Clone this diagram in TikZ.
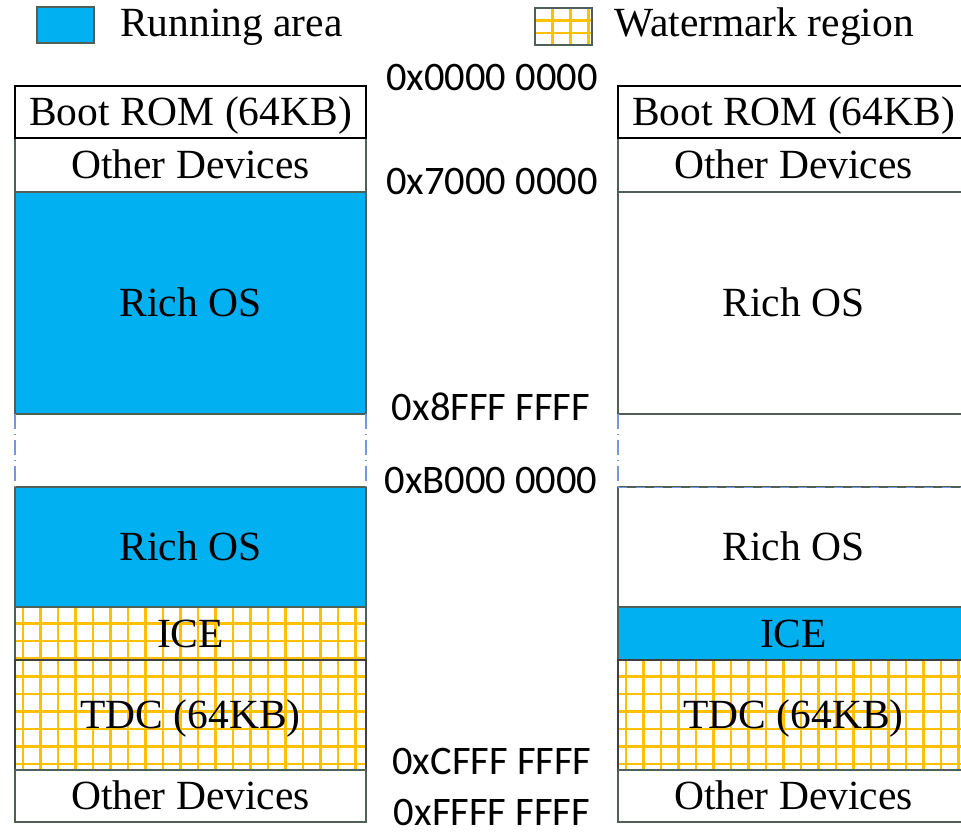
\documentclass[tikz,border=0pt]{standalone}
\usepackage{fontspec}
\setmainfont{Liberation Serif}
\newfontfamily\addrfont{Carlito}
\definecolor{runblue}{HTML}{00B0F0}
\definecolor{wmgold}{HTML}{FFC000}
\definecolor{edgegray}{HTML}{4F6056}
\definecolor{gapblue}{HTML}{7797DD}

\tikzset{
  blocktxt/.style={font=\fontsize{41.5}{41.5}\selectfont},
  block/.style={blocktxt, draw=edgegray, line width=1.3pt, minimum width=351pt,
    inner sep=0pt, outer sep=0pt, text height=27pt, text depth=0pt},
  run/.style={block, fill=runblue},
  bootrom/.style={block, draw=black, line width=2.6pt},
  wmline/.style={draw=wmgold, line width=2.2pt},
  % grid hatch: x offset, x step, y offset, y step
  wm/.style n args={4}{path picture={
    \foreach \i in {0,...,24}
      \draw[wmline] ([xshift={#1pt+\i*#2pt}]path picture bounding box.north west)
        -- ([xshift={#1pt+\i*#2pt}]path picture bounding box.south west);
    \foreach \j in {0,...,10}
      \draw[wmline] ([yshift={-#3pt-\j*#4pt}]path picture bounding box.north west)
        -- ([yshift={-#3pt-\j*#4pt}]path picture bounding box.north east);
  }},
  wmblock/.style={block, wm={8}{17.5}{16.5}{17.5}},
  tdcedge/.style={draw=black!75},
  addr/.style={font=\addrfont\fontsize{40.5}{40.5}\selectfont, inner sep=0pt,
    text height=25.5pt, text depth=0pt},
  gapline/.style={draw=gapblue, line width=1.3pt, dash pattern=on 15pt off 5pt on 1pt off 5pt},
}

\begin{document}
\begin{tikzpicture}[x=1pt,y=-1pt]
\useasboundingbox (0,0) rectangle (961,834);
\clip (0,0) rectangle (961,834);

% legend
\node[draw=edgegray, line width=1.2pt, fill=runblue, minimum width=57pt, minimum height=36pt,
  inner sep=0pt] (legRun) at (65.5,25) {};
\node[blocktxt, anchor=base west, inner sep=0pt] (legRunTxt) at (120,37) {Running area};
\node[draw=edgegray, line width=1.2pt, minimum width=57pt, minimum height=37pt, inner sep=0pt,
  wm={17.5}{18}{12.5}{12.5}] (legWm) at (563.5,26.5) {};
\node[blocktxt, anchor=base west, inner sep=0pt] (legWmTxt) at (614,37) {Watermark region};

% left memory map
\node[block] (odTopL) at (190.5,165) [minimum height=54pt] {Other Devices};
\node[run] (richL1) at (190.5,303) [minimum height=222pt] {Rich OS};
\node[run] (richL2) at (190.5,547) [minimum height=120pt] {Rich OS};
\node[wmblock] (iceL) at (190.5,633.5) [minimum height=53pt] {ICE};
\node[wmblock, tdcedge] (tdcL) at (190.5,715) [minimum height=110pt] {TDC (64KB)};
\node[block] (odBotL) at (190.5,796) [minimum height=52pt] {Other Devices};
\node[bootrom] (bootL) at (190.5,112) [minimum height=52pt] {Boot ROM (64KB)};
\draw[gapline] (richL1.south west) -- (richL2.north west);
\draw[gapline] (richL1.south east) -- (richL2.north east);

% right memory map
\node[block] (odTopR) at (793.5,165) [minimum height=54pt] {Other Devices};
\node[block] (richR1) at (793.5,303) [minimum height=222pt] {Rich OS};
\node[block] (richR2) at (793.5,547) [minimum height=120pt] {Rich OS};
\node[run] (iceR) at (793.5,633.5) [minimum height=53pt] {ICE};
\node[wmblock, tdcedge] (tdcR) at (793.5,715) [minimum height=110pt] {TDC (64KB)};
\node[block] (odBotR) at (793.5,796) [minimum height=52pt] {Other Devices};
\node[bootrom] (bootR) at (793.5,112) [minimum height=52pt] {Boot ROM (64KB)};
\draw[gapline] (richR1.south west) -- (richR2.north west);
\draw[draw=gapblue, line width=1pt, dash pattern=on 9pt off 9pt] (richR2.north west) -- (richR2.north east);

% address labels
\node[addr] (a0) at (492,78) {0x0000 0000};
\node[addr] (a7) at (492,182) {0x7000 0000};
\node[addr] (a8) at (491,408) {0x8FFF FFFF};
\node[addr] (aB) at (491,481) {0xB000 0000};
\node[addr] (aC) at (492,762) {0xCFFF FFFF};
\node[addr] (aF) at (492,813) {0xFFFF FFFF};
\end{tikzpicture}
\end{document}
